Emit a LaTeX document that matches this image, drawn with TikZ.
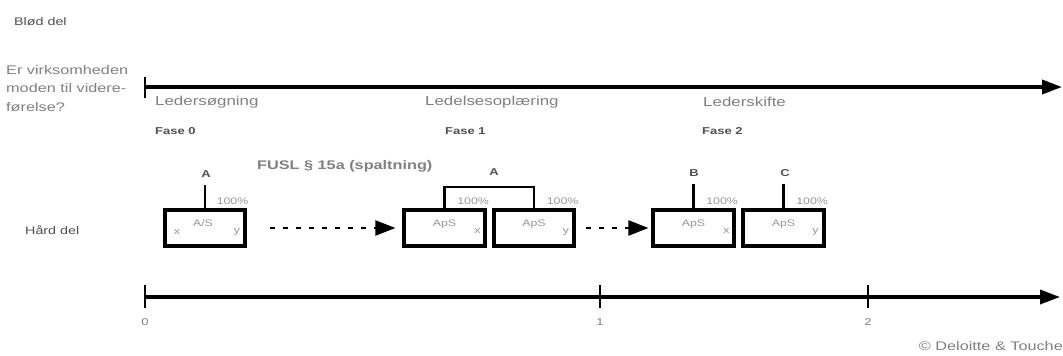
\documentclass[tikz,border=0pt]{standalone}
\usepackage{fontspec}
\setmainfont{Liberation Sans}[FakeStretch=1.3]
\usetikzlibrary{arrows.meta,calc}
\definecolor{tgray}{RGB}{128,128,128}
\definecolor{lgray}{RGB}{150,150,150}
\definecolor{dgray}{RGB}{80,80,80}
\newcommand{\fsz}[1]{\fontsize{#1}{#1}\selectfont}
\begin{document}
\begin{tikzpicture}[x=1pt,y=-1pt,
  txt/.style={inner sep=0pt, text=tgray},
  dtxt/.style={inner sep=0pt, text=dgray},
  phase/.style={txt, anchor=west, font=\fsz{13}},
  fase/.style={inner sep=0pt, text=dgray, anchor=west, font=\bfseries\fsz{10}},
  cobox/.style={draw=black, line width=3.6pt, minimum width=80.5pt, minimum height=36.5pt, inner sep=0pt},
  nm/.style={inner sep=0pt, text=lgray, font=\fsz{9.5}},
  xy/.style={inner sep=0pt, text=lgray, font=\fsz{9.5}},
  pct/.style={inner sep=0pt, text=lgray, font=\fsz{9.5}, anchor=east},
  owner/.style={inner sep=0pt, text=dgray, font=\bfseries\fsz{10}},
  conn/.style={line width=2.8pt},
  axis/.style={line width=3.5pt, -{Triangle[length=20pt,width=14pt]}},
  tickl/.style={line width=2pt},
  dots/.style={line width=2pt, dash pattern=on 5pt off 8pt, -{Triangle[length=20pt,width=15pt]}},
  num/.style={inner sep=0pt, text=tgray, font=\fsz{10}}
]
\useasboundingbox (0,0) rectangle (1063,356);

% left labels
\node[dtxt, anchor=west, font=\fsz{11}] (blod) at (14,22) {Blød del};
\node[txt, anchor=north west, align=left, font=\fontsize{12.5}{18.5}\selectfont] (q) at (6,65) {Er virksomheden\\moden til videre-\\førelse?};
\node[dtxt, anchor=west, font=\fsz{11}] (hard) at (25,230) {Hård del};

% top axis
\coordinate (t0) at (145,87);
\coordinate (tend) at (1062,87);
\draw[axis] (t0) -- (tend);
\draw[tickl] ([yshift=10pt]t0) -- ([yshift=-11pt]t0);

% phases
\node[phase] (p0) at (155,102) {Ledersøgning};
\node[phase] (p1) at (425,102) {Ledelsesoplæring};
\node[phase] (p2) at (703,102) {Lederskifte};
\node[fase] (f0) at (155,131) {Fase 0};
\node[fase] (f1) at (445,131) {Fase 1};
\node[fase] (f2) at (702,131) {Fase 2};

\node[txt, anchor=west, font=\bfseries\fsz{12.5}] (fusl) at (257,166) {FUSL § 15a (spaltning)};

% boxes
\node[cobox] (b1) at (205,228) {};
\node[cobox] (b2) at (444.5,228) {};
\node[cobox] (b3) at (534,228) {};
\node[cobox] (b4) at (693.5,228) {};
\node[cobox] (b5) at (783.5,228) {};

\node[nm] (n1) at ($(b1.center)+(-2,-5)$) {A/S};
\node[xy] (x1) at ($(b1.west)+(14,4)$) {x};
\node[xy] (y1) at ($(b1.east)+(-10,4)$) {y};
\node[nm] (n2) at ($(b2.center)+(0,-4)$) {ApS};
\node[xy] (x2) at ($(b2.east)+(-9,3)$) {x};
\node[nm] (n3) at ($(b3.center)+(0,-4)$) {ApS};
\node[xy] (y3) at ($(b3.east)+(-10,4)$) {y};
\node[nm] (n4) at ($(b4.center)+(0,-4)$) {ApS};
\node[xy] (x4) at ($(b4.east)+(-9,3)$) {x};
\node[nm] (n5) at ($(b5.center)+(0,-4)$) {ApS};
\node[xy] (y5) at ($(b5.east)+(-10,4)$) {y};

% owners
\node[owner] (A1) at (206,174) {A};
\node[owner] (A2) at (494,172) {A};
\node[owner] (B) at (694,173) {B};
\node[owner] (C) at (785,173) {C};
\coordinate (bar) at (490,187);

\draw[conn] (b1.north) -- ($(b1.north |- A1.south)+(0,7)$);
\draw[conn] (b2.north) -- (b2.north |- bar) -- (b3.north |- bar) -- (b3.north);
\draw[conn] (b4.north) -- ($(b4.north |- B.south)+(0,7)$);
\draw[conn] (b5.north) -- ($(b5.north |- C.south)+(0,7)$);

\node[pct] (pc1) at ($(b1.north east)+(1.5,-6.5)$) {100\%};
\node[pct] (pc2) at ($(b2.north east)+(2.5,-6.5)$) {100\%};
\node[pct] (pc3) at ($(b3.north east)+(2.5,-6.5)$) {100\%};
\node[pct] (pc4) at ($(b4.north east)+(2.5,-6.5)$) {100\%};
\node[pct] (pc5) at ($(b5.north east)+(2.5,-6.5)$) {100\%};

% dotted arrows
\draw[dots] ([xshift=23pt]b1.east) -- ([xshift=-7pt]b2.west);
\draw[dots] ([xshift=10pt]b3.east) -- ([xshift=-3pt]b4.west);

% bottom axis
\coordinate (a0) at (145,297);
\coordinate (a1) at (600,297);
\coordinate (a2) at (868,297);
\coordinate (aend) at (1060,297);
\draw[axis] (a0) -- (aend);
\foreach \c in {a0,a1,a2} \draw[tickl] ([yshift=12pt]\c) -- ([yshift=-11pt]\c);
\node[num] (l0) at (145,322) {0};
\node[num] (l1) at (600,322) {1};
\node[num] (l2) at (868,322) {2};

\node[txt, anchor=east, font=\fsz{12.5}] (copy) at (1063,346) {© Deloitte \& Touche};
\end{tikzpicture}
\end{document}
